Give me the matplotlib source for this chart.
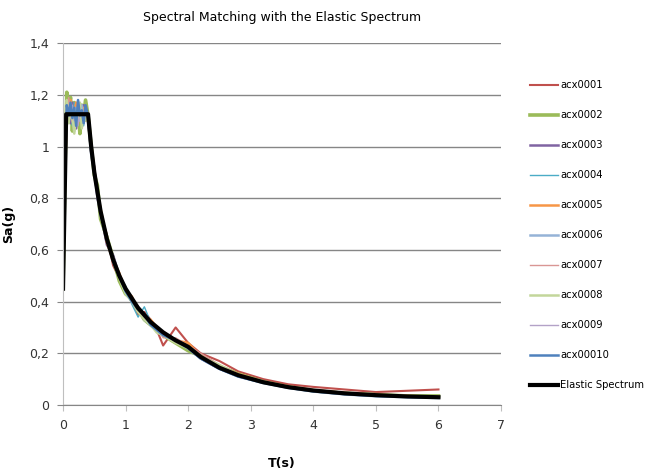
import numpy as np
import matplotlib.pyplot as plt

# periods (s) shared by the matched records
T = [0, 0.03, 0.06, 0.09, 0.12, 0.15, 0.18, 0.21, 0.24, 0.27, 0.30, 0.33, 0.36, 0.40,
     0.45, 0.5, 0.55, 0.6, 0.7, 0.8, 0.9, 1.0, 1.1, 1.2, 1.3, 1.4, 1.5, 1.6, 1.8, 2.0,
     2.2, 2.5, 2.8, 3.2, 3.6, 4.0, 4.5, 5.0, 5.5, 6.0]

acx0001 = [0.45, 0.95, 1.12, 1.18, 1.10, 1.15, 1.08, 1.16, 1.12, 1.09, 1.14, 1.11, 1.13, 1.10,
           0.97, 0.90, 0.84, 0.74, 0.66, 0.54, 0.49, 0.44, 0.40, 0.35, 0.36, 0.33, 0.29, 0.23, 0.30, 0.24,
           0.20, 0.17, 0.13, 0.10, 0.08, 0.07, 0.06, 0.05, 0.055, 0.06]
acx0002 = [0.45, 0.90, 1.21, 1.14, 1.19, 1.06, 1.17, 1.10, 1.15, 1.05, 1.16, 1.12, 1.18, 1.12,
           1.00, 0.89, 0.85, 0.72, 0.65, 0.57, 0.48, 0.43, 0.41, 0.37, 0.33, 0.31, 0.29, 0.27, 0.24, 0.21,
           0.19, 0.15, 0.12, 0.09, 0.07, 0.055, 0.045, 0.04, 0.035, 0.035]
acx0003 = [0.45, 0.88, 1.13, 1.16, 1.09, 1.17, 1.12, 1.07, 1.15, 1.11, 1.10, 1.16, 1.12, 1.11,
           0.98, 0.92, 0.80, 0.75, 0.62, 0.58, 0.50, 0.45, 0.40, 0.38, 0.35, 0.32, 0.30, 0.28, 0.25, 0.22,
           0.18, 0.14, 0.115, 0.09, 0.07, 0.055, 0.045, 0.038, 0.033, 0.03]
acx0004 = [0.45, 0.92, 1.10, 1.15, 1.12, 1.08, 1.17, 1.13, 1.09, 1.15, 1.12, 1.08, 1.14, 1.12,
           0.99, 0.88, 0.83, 0.73, 0.64, 0.55, 0.49, 0.46, 0.39, 0.34, 0.38, 0.32, 0.29, 0.27, 0.25, 0.22,
           0.18, 0.145, 0.11, 0.085, 0.068, 0.054, 0.043, 0.036, 0.031, 0.028]
acx0005 = [0.45, 0.85, 1.15, 1.12, 1.18, 1.10, 1.13, 1.17, 1.09, 1.14, 1.11, 1.15, 1.10, 1.13,
           1.01, 0.91, 0.82, 0.76, 0.63, 0.56, 0.51, 0.44, 0.42, 0.36, 0.34, 0.33, 0.30, 0.27, 0.25, 0.24,
           0.19, 0.15, 0.12, 0.09, 0.072, 0.058, 0.047, 0.04, 0.035, 0.032]
acx0006 = [0.45, 0.89, 1.14, 1.17, 1.11, 1.13, 1.06, 1.15, 1.13, 1.10, 1.16, 1.09, 1.12, 1.11,
           0.97, 0.90, 0.81, 0.74, 0.64, 0.56, 0.50, 0.45, 0.40, 0.37, 0.33, 0.31, 0.29, 0.27, 0.245, 0.22,
           0.18, 0.14, 0.11, 0.085, 0.066, 0.052, 0.041, 0.034, 0.03, 0.027]
acx0007 = [0.45, 0.91, 1.12, 1.19, 1.13, 1.09, 1.14, 1.10, 1.17, 1.12, 1.08, 1.13, 1.15, 1.12,
           1.00, 0.89, 0.84, 0.75, 0.65, 0.55, 0.50, 0.44, 0.41, 0.36, 0.34, 0.32, 0.30, 0.26, 0.26, 0.23,
           0.20, 0.155, 0.12, 0.09, 0.071, 0.057, 0.046, 0.039, 0.034, 0.031]
acx0008 = [0.45, 0.87, 1.18, 1.09, 1.16, 1.12, 1.05, 1.14, 1.11, 1.17, 1.07, 1.13, 1.10, 1.12,
           1.02, 0.88, 0.83, 0.73, 0.64, 0.57, 0.49, 0.43, 0.40, 0.36, 0.33, 0.31, 0.28, 0.27, 0.24, 0.22,
           0.185, 0.155, 0.115, 0.088, 0.07, 0.056, 0.045, 0.038, 0.034, 0.031]
acx0009 = [0.45, 0.90, 1.13, 1.15, 1.12, 1.16, 1.10, 1.13, 1.08, 1.14, 1.12, 1.10, 1.15, 1.11,
           0.98, 0.91, 0.82, 0.75, 0.63, 0.56, 0.50, 0.45, 0.41, 0.37, 0.34, 0.32, 0.30, 0.28, 0.25, 0.225,
           0.185, 0.145, 0.115, 0.088, 0.069, 0.055, 0.044, 0.037, 0.032, 0.029]
acx00010 = [0.45, 0.93, 1.16, 1.12, 1.17, 1.11, 1.15, 1.08, 1.18, 1.12, 1.14, 1.09, 1.16, 1.12,
            0.99, 0.90, 0.83, 0.74, 0.64, 0.56, 0.50, 0.44, 0.40, 0.37, 0.35, 0.31, 0.29, 0.27, 0.25, 0.22,
            0.18, 0.14, 0.11, 0.086, 0.067, 0.053, 0.042, 0.035, 0.031, 0.028]

# elastic design spectrum
T_el = [0, 0.05, 0.4, 0.45, 0.5, 0.6, 0.7, 0.8, 0.9, 1.0, 1.2, 1.4, 1.6, 1.8, 2.0, 2.2, 2.5,
        2.8, 3.2, 3.6, 4.0, 4.5, 5.0, 5.5, 6.0]
Sa_el = [0.45, 1.125, 1.125, 1.0, 0.9, 0.75, 0.643, 0.563, 0.5, 0.45, 0.375, 0.321, 0.281, 0.25,
         0.225, 0.186, 0.144, 0.115, 0.088, 0.069, 0.056, 0.045, 0.038, 0.033, 0.03]

records = [acx0001, acx0002, acx0003, acx0004, acx0005, acx0006, acx0007, acx0008, acx0009, acx00010]
names = ["acx0001", "acx0002", "acx0003", "acx0004", "acx0005", "acx0006", "acx0007", "acx0008",
         "acx0009", "acx00010"]
colors = ["#C0504D", "#9BBB59", "#8064A2", "#4BACC6", "#F79646", "#95B3D7", "#D99694", "#C3D69B",
          "#B3A2C7", "#4F81BD"]
widths = [1.5, 2.6, 1.8, 1.0, 1.8, 1.8, 1.0, 1.8, 1.0, 1.8]

fig = plt.figure(figsize=(6.45, 4.69), dpi=100)
ax = fig.add_axes([0.0977, 0.1365, 0.6791, 0.7715])

for rec, nm, c, w in zip(records, names, colors, widths):
    ax.plot(T, rec, color=c, lw=w, label=nm)
ax.plot(T_el, Sa_el, color="black", lw=3, label="Elastic Spectrum")

ax.set_xlim(0, 7)
ax.set_ylim(0, 1.4)
ax.set_xticks(range(0, 8))
yt = [0, 0.2, 0.4, 0.6, 0.8, 1.0, 1.2, 1.4]
ax.set_yticks(yt)
ax.set_yticklabels(["0", "0,2", "0,4", "0,6", "0,8", "1", "1,2", "1,4"])
ax.yaxis.grid(True, color="#868686", lw=1)
ax.set_axisbelow(True)
for s in ["top", "right"]:
    ax.spines[s].set_visible(False)
ax.spines["left"].set_color("#BFBFBF")
ax.spines["bottom"].set_color("#868686")
ax.tick_params(axis="both", labelsize=9, colors="#333333", length=4, pad=6)
ax.tick_params(axis="y", color="#868686")
ax.tick_params(axis="x", color="#BFBFBF")

ax.set_title("Spectral Matching with the Elastic Spectrum", fontsize=9, pad=16)
ax.set_xlabel("T(s)", fontsize=9, fontweight="bold", labelpad=18)
ax.set_ylabel("Sa(g)", fontsize=9, fontweight="bold", labelpad=10)

fig.legend(loc="upper left", bbox_to_anchor=(0.822, 0.829), frameon=False, fontsize=7.2,
           borderpad=0, borderaxespad=0, labelspacing=2.0, handlelength=2.8, handletextpad=0.2)

fig.savefig("out.png", dpi=100)
